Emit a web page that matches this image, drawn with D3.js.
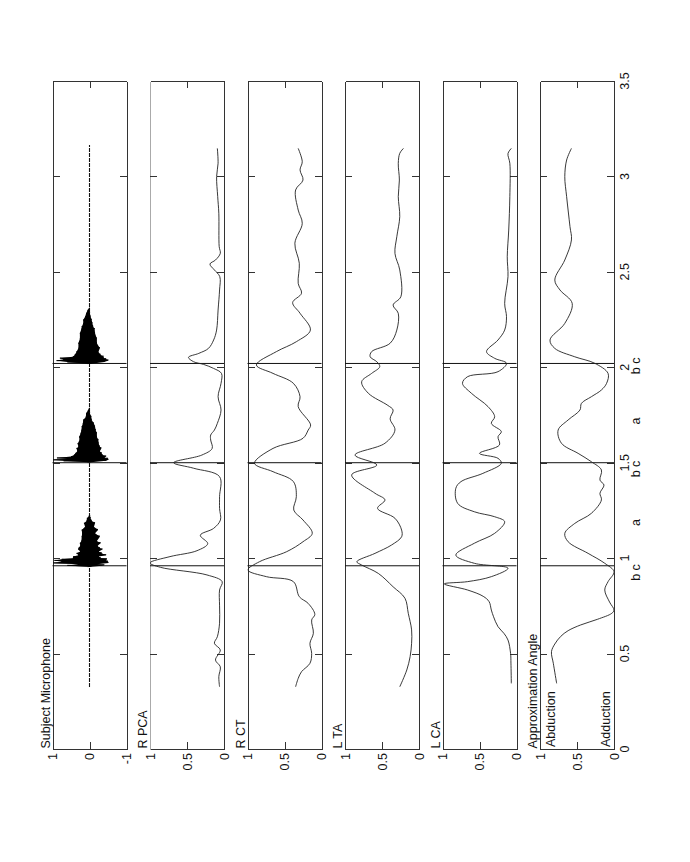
<!DOCTYPE html>
<html><head><meta charset="utf-8">
<script src="https://cdn.jsdelivr.net/npm/d3@7"></script>
<style>
html,body{margin:0;padding:0;background:#fff;}
text{font-family:"Liberation Sans",Arial,sans-serif;font-size:12.5px;fill:#111;}
</style></head>
<body><svg id="c" width="690" height="862"></svg>
<script>
// ---- DATA (time in s, value) ----
const panelTitles = ["Subject Microphone","R PCA","R CT","L TA","L CA","Approximation Angle"];
const timeTicks = [0,0.5,1,1.5,2,2.5,3,3.5];
const timeTickLabels = ["0","0.5","1","1.5","2","2.5","3","3.5"];
const micTicks = [1,0,-1];
const micTickLabels = ["1","0","-1"];
const valTicks = [1,0.5,0];
const valTickLabels = ["1","0.5","0"];
const eventTimes = [0.96,1.5,2.02];
const phaseLabels = ["b c","a","b c","a","b c"];
const phaseTimes = [0.925,1.186,1.467,1.718,2.007];
const micSpan = [0.325,3.165];

const micBurst1 = [[0.955,0.05,-0.05],[0.962,0.6,-0.4],[0.968,0.3,-0.2],[0.975,0.98,-0.51],[0.981,0.75,-0.5],[0.988,0.95,-0.45],[0.994,0.75,-0.47],[1.0,0.45,-0.3],[1.008,0.44,-0.25],[1.015,0.3,-0.45],[1.025,0.35,-0.33],[1.035,0.25,-0.25],[1.045,0.3,-0.35],[1.052,0.3,-0.28],[1.065,0.25,-0.22],[1.078,0.26,-0.3],[1.09,0.22,-0.2],[1.112,0.21,-0.28],[1.13,0.2,-0.15],[1.147,0.21,-0.23],[1.165,0.12,-0.12],[1.183,0.15,-0.15],[1.195,0.08,-0.06],[1.209,0.07,-0.03],[1.22,0.02,-0.02]];
const micBurst2 = [[1.503,0.05,-0.05],[1.51,0.7,-0.45],[1.515,0.98,-0.51],[1.52,0.6,-0.5],[1.525,0.88,-0.4],[1.532,0.5,-0.45],[1.54,0.42,-0.35],[1.549,0.38,-0.33],[1.56,0.33,-0.28],[1.575,0.35,-0.32],[1.584,0.3,-0.28],[1.6,0.32,-0.25],[1.619,0.27,-0.24],[1.635,0.28,-0.2],[1.654,0.24,-0.2],[1.67,0.22,-0.17],[1.689,0.21,-0.15],[1.705,0.18,-0.12],[1.724,0.17,-0.06],[1.74,0.1,-0.05],[1.759,0.09,-0.01],[1.775,0.04,0.0],[1.785,0.01,-0.01]];
const micBurst3 = [[2.019,0.05,-0.05],[2.028,0.6,-0.4],[2.035,0.89,-0.51],[2.042,0.7,-0.45],[2.048,0.8,-0.38],[2.055,0.45,-0.38],[2.065,0.4,-0.3],[2.082,0.35,-0.24],[2.1,0.3,-0.28],[2.126,0.3,-0.2],[2.15,0.26,-0.2],[2.178,0.26,-0.15],[2.2,0.22,-0.14],[2.213,0.21,-0.1],[2.23,0.17,-0.08],[2.248,0.17,-0.06],[2.265,0.12,-0.03],[2.283,0.09,-0.01],[2.3,0.05,0.0],[2.31,0.01,-0.01]];

const rPCA = [[0.326,0.06],[0.379,0.07],[0.431,0.05],[0.466,0.115],[0.519,0.05],[0.554,0.13],[0.588,0.09],[0.659,0.06],[0.75,0.06],[0.833,0.06],[0.877,0.025],[0.912,0.23],[0.952,0.86],[0.975,1.0],[1.008,0.73],[1.039,0.365],[1.076,0.22],[1.12,0.32],[1.156,0.14],[1.2,0.048],[1.26,0.06],[1.322,0.06],[1.427,0.06],[1.471,0.41],[1.5,0.68],[1.54,0.3],[1.575,0.16],[1.619,0.18],[1.645,0.18],[1.671,0.13],[1.706,0.09],[1.776,0.04],[1.846,0.08],[1.916,0.04],[1.968,0.034],[1.994,0.14],[2.015,0.275],[2.029,0.41],[2.052,0.48],[2.073,0.34],[2.099,0.21],[2.143,0.14],[2.195,0.1],[2.3,0.08],[2.405,0.06],[2.475,0.057],[2.51,0.13],[2.541,0.19],[2.562,0.115],[2.597,0.05],[2.632,0.065],[2.807,0.07],[2.894,0.085],[2.999,0.1],[3.069,0.08],[3.147,0.09]];
const rCT = [[0.326,0.35],[0.37,0.315],[0.405,0.27],[0.449,0.156],[0.501,0.133],[0.554,0.156],[0.606,0.11],[0.676,0.133],[0.705,0.09],[0.763,0.18],[0.798,0.3],[0.877,0.38],[0.903,0.745],[0.938,0.995],[0.981,0.84],[1.034,0.47],[1.086,0.25],[1.13,0.125],[1.2,0.25],[1.252,0.375],[1.322,0.34],[1.401,0.38],[1.453,0.655],[1.497,0.905],[1.575,0.655],[1.628,0.25],[1.671,0.18],[1.698,0.147],[1.794,0.315],[1.846,0.29],[1.916,0.38],[1.968,0.655],[2.012,0.88],[2.082,0.61],[2.134,0.34],[2.195,0.15],[2.283,0.29],[2.339,0.39],[2.388,0.27],[2.44,0.315],[2.545,0.3],[2.65,0.36],[2.754,0.26],[2.824,0.315],[2.929,0.35],[2.981,0.25],[3.034,0.29],[3.077,0.26],[3.147,0.315]];
const lTA = [[0.326,0.26],[0.414,0.165],[0.484,0.12],[0.554,0.1],[0.624,0.1],[0.711,0.145],[0.79,0.19],[0.85,0.35],[0.92,0.55],[0.964,0.775],[0.981,0.84],[1.025,0.595],[1.069,0.37],[1.112,0.235],[1.147,0.235],[1.209,0.325],[1.261,0.56],[1.305,0.46],[1.34,0.595],[1.436,0.91],[1.488,0.57],[1.54,0.865],[1.602,0.46],[1.671,0.325],[1.73,0.39],[1.776,0.35],[1.8,0.42],[1.864,0.685],[1.924,0.775],[1.968,0.64],[2.003,0.53],[2.029,0.57],[2.055,0.66],[2.082,0.64],[2.126,0.39],[2.195,0.3],[2.283,0.28],[2.326,0.35],[2.37,0.245],[2.51,0.26],[2.597,0.325],[2.684,0.3],[2.789,0.26],[2.894,0.28],[2.981,0.265],[3.069,0.28],[3.121,0.26],[3.147,0.21]];
const lCA = [[0.344,0.07],[0.45,0.075],[0.501,0.08],[0.571,0.115],[0.606,0.17],[0.641,0.25],[0.693,0.31],[0.728,0.34],[0.772,0.37],[0.8,0.45],[0.833,0.66],[0.865,0.975],[0.877,0.66],[0.903,0.34],[0.947,0.115],[0.973,0.57],[1.016,0.82],[1.078,0.57],[1.13,0.295],[1.191,0.16],[1.217,0.295],[1.243,0.57],[1.287,0.795],[1.366,0.82],[1.401,0.75],[1.444,0.455],[1.497,0.205],[1.523,0.25],[1.549,0.5],[1.593,0.23],[1.636,0.25],[1.663,0.205],[1.706,0.34],[1.741,0.295],[1.794,0.385],[1.864,0.61],[1.916,0.73],[1.951,0.66],[1.977,0.25],[2.021,0.135],[2.047,0.295],[2.082,0.405],[2.143,0.25],[2.195,0.16],[2.265,0.135],[2.335,0.16],[2.475,0.115],[2.579,0.125],[2.719,0.105],[2.894,0.09],[3.069,0.09],[3.12,0.115],[3.147,0.07]];
const angle = [[0.344,0.775],[0.449,0.82],[0.51,0.845],[0.55,0.8],[0.59,0.72],[0.62,0.62],[0.65,0.45],[0.68,0.22],[0.711,0.03],[0.728,0.0],[0.77,0.06],[0.833,0.125],[0.877,0.08],[0.929,0.0],[0.973,0.125],[1.025,0.35],[1.086,0.62],[1.13,0.665],[1.182,0.53],[1.235,0.305],[1.305,0.17],[1.34,0.19],[1.383,0.135],[1.409,0.19],[1.462,0.17],[1.505,0.305],[1.549,0.485],[1.602,0.71],[1.671,0.755],[1.724,0.62],[1.776,0.46],[1.811,0.44],[1.846,0.305],[1.881,0.17],[1.916,0.1],[1.968,0.08],[2.021,0.26],[2.055,0.53],[2.099,0.8],[2.143,0.865],[2.23,0.665],[2.335,0.565],[2.405,0.73],[2.457,0.8],[2.562,0.665],[2.667,0.575],[2.737,0.595],[2.894,0.64],[2.999,0.665],[3.086,0.64],[3.147,0.575]];
const angleNotes = ["Abduction","Adduction"];
const angleNoteVals = [0.8,0.05];

// ---- LAYOUT ----
const svg = d3.select("#c");
const topY = 81, bottomY = 749, pw = 74, gap = 97.5, left0 = 52.5;
const yT = d3.scaleLinear().domain([0,3.5]).range([bottomY, topY]);
const series = [null, rPCA, rCT, lTA, lCA, angle];
const ink = "#333";

panelTitles.forEach((title, i) => {
  const L = left0 + gap*i, R = L + pw;
  const isMic = i === 0;
  const x = d3.scaleLinear().domain(isMic ? [1,-1] : [1,0]).range([L, R]);
  const g = svg.append("g");
  const cid = "clip"+i;
  svg.append("clipPath").attr("id", cid).append("rect").attr("x", L).attr("y", topY).attr("width", pw).attr("height", bottomY-topY);

  const innerTimes = timeTicks.filter(t => t > 0 && t < 3.5);
  const axL = d3.axisLeft(yT).tickValues(innerTimes).tickSize(-7).tickSizeOuter(0).tickFormat("");
  const axR = d3.axisRight(yT).tickValues(innerTimes).tickSize(-7).tickSizeOuter(0).tickFormat("");
  const vTicks = isMic ? [0] : [0.5];
  const axT = d3.axisTop(x).tickValues(vTicks).tickSize(-7).tickSizeOuter(0).tickFormat("");
  const axB = d3.axisBottom(x).tickValues(vTicks).tickSize(-7).tickSizeOuter(0).tickFormat("");
  const gl = g.append("g").attr("transform", `translate(${L},0)`).call(axL);
  g.append("g").attr("transform", `translate(${R},0)`).call(axR);
  g.append("g").attr("transform", `translate(0,${topY})`).call(axT);
  g.append("g").attr("transform", `translate(0,${bottomY})`).call(axB);
  g.selectAll(".domain, .tick line").attr("stroke", ink).attr("stroke-width", 1).attr("shape-rendering","crispEdges");
  if (i === 1) gl.select(".domain").attr("stroke", "#aaa").attr("stroke-width", 1.6);

  eventTimes.forEach(t => {
    g.append("line").attr("x1", L).attr("x2", R).attr("y1", yT(t)).attr("y2", yT(t))
      .attr("stroke", "#111").attr("stroke-width", 1);
  });

  const cg = g.append("g").attr("clip-path", `url(#${cid})`);
  if (isMic) {
    cg.append("line").attr("x1", x(0)).attr("x2", x(0)).attr("y1", yT(micSpan[0])).attr("y2", yT(micSpan[1]))
      .attr("stroke", "#111").attr("stroke-width", 1.1).attr("stroke-dasharray", "4,1");
    [micBurst1, micBurst2, micBurst3].forEach(b => {
      const area = d3.area().y(d => yT(d[0])).x0(d => x(d[1])).x1(d => x(d[2])).curve(d3.curveLinear);
      cg.append("path").attr("d", area(b)).attr("fill", "#000");
      const zz = [];
      b.forEach(d => { zz.push([d[0], d[1]]); zz.push([d[0]+0.003, d[2]]); });
      cg.append("path").attr("d", d3.line().y(d => yT(d[0])).x(d => x(d[1]))(zz))
        .attr("fill", "none").attr("stroke", "#000").attr("stroke-width", 0.8);
    });
  } else {
    const line = d3.line().x(d => x(d[1])).y(d => yT(d[0])).curve(d3.curveCatmullRom.alpha(0.5));
    cg.append("path").attr("d", line(series[i])).attr("fill", "none").attr("stroke", "#222").attr("stroke-width", 0.9);
  }

  svg.append("text").attr("transform", `translate(${L-3},${bottomY-0.5}) rotate(-90)`).attr("text-anchor","start").text(title);

  const tv = isMic ? micTicks : valTicks;
  const tl = isMic ? micTickLabels : valTickLabels;
  tv.forEach((v, k) => {
    svg.append("text").attr("transform", `translate(${x(v)+4.5},${bottomY+4}) rotate(-90)`)
      .attr("text-anchor","end").text(tl[k]);
  });

  if (i === 5) {
    angleNotes.forEach((s, k) => {
      svg.append("text").attr("transform", `translate(${x(angleNoteVals[k])},${bottomY-2}) rotate(-90)`)
        .attr("text-anchor","start").text(s);
    });
    timeTicks.forEach((t, k) => {
      svg.append("text").attr("transform", `translate(${R+14.5},${yT(t)}) rotate(-90)`)
        .attr("text-anchor","middle").text(timeTickLabels[k]);
    });
    phaseLabels.forEach((s, k) => {
      svg.append("text").attr("transform", `translate(${R+26},${yT(phaseTimes[k])}) rotate(-90)`)
        .attr("text-anchor","middle").text(s);
    });
  }
});
</script></body></html>
